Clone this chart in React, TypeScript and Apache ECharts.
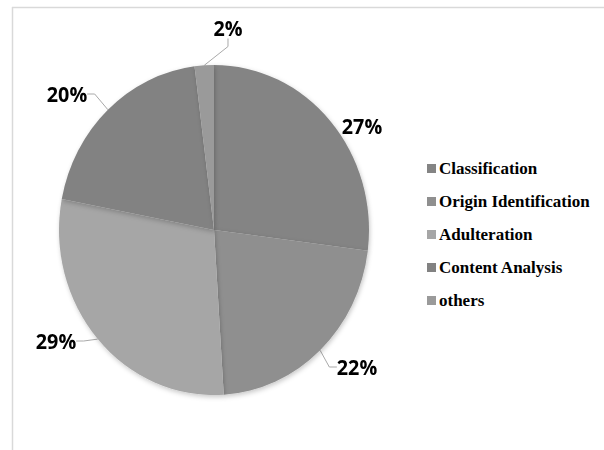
import React, { useEffect, useRef } from "react";
import * as echarts from "echarts";

const categories = ["Classification", "Origin Identification", "Adulteration", "Content Analysis", "others"];
const values = [27, 22, 29, 20, 2];
const colors = ["#848484", "#8f8f8f", "#a6a6a6", "#828282", "#9a9a9a"];

// horizontal squeeze of the pie layer (the reference pie is slightly elliptical)
const SX = 155 / 165;
const CX = 214;
// label anchor points in screen space (centre of each percentage text)
const labelScreenX = [362, 357, 56, 67, 228];
const labelScreenY = [126, 367, 341, 94, 28];

export default function App() {
  const baseRef = useRef<HTMLDivElement>(null);
  const pieRef = useRef<HTMLDivElement>(null);
  useEffect(() => {
    if (!baseRef.current || !pieRef.current) return;
    const base = echarts.init(baseRef.current, undefined, { renderer: "svg" });
    const pie = echarts.init(pieRef.current, undefined, { renderer: "svg" });

    base.setOption({
      animation: false,
      backgroundColor: "#ffffff",
      graphic: [
        { type: "line", shape: { x1: 12, y1: 7.5, x2: 604, y2: 7.5 }, style: { stroke: "#d9d9d9", lineWidth: 1.5 } },
        { type: "line", shape: { x1: 12.5, y1: 7, x2: 12.5, y2: 450 }, style: { stroke: "#d9d9d9", lineWidth: 1.5 } },
      ],
      legend: {
        orient: "vertical",
        left: 422,
        top: 155,
        itemWidth: 9,
        itemHeight: 9,
        itemGap: 16,
        icon: "rect",
        data: categories.map((name, i) => ({ name, itemStyle: { color: colors[i] } })),
        textStyle: {
          fontFamily: "Liberation Serif",
          fontWeight: "bold",
          fontSize: 17,
          color: "#000",
          padding: [0, 0, 0, -2],
        },
      },
      series: [
        {
          type: "pie",
          center: [CX, 230],
          radius: 0,
          silent: true,
          label: { show: false },
          labelLine: { show: false },
          data: categories.map((name, i) => ({ name, value: values[i], itemStyle: { color: colors[i] } })),
        },
      ],
    });

    pie.setOption({
      animation: false,
      series: [
        {
          type: "pie",
          center: [CX, 230],
          radius: 165,
          startAngle: 90,
          clockwise: true,
          data: categories.map((name, i) => ({
            name,
            value: values[i],
            itemStyle: { color: colors[i] },
            labelLine: { show: i !== 0 },
          })),
          itemStyle: {
            shadowBlur: 5,
            shadowColor: "rgba(0,0,0,0.22)",
            shadowOffsetX: 1,
            shadowOffsetY: 2,
          },
          label: {
            show: true,
            formatter: "{c}%",
            fontFamily: "Open Sans",
            fontWeight: "bold",
            fontSize: 21,
            color: "#000",
          },
          labelLine: {
            show: true,
            length: 12,
            length2: 8,
            lineStyle: { color: "#a6a6a6", width: 1 },
          },
          labelLayout: (params: any) => {
            const i = params.dataIndex;
            return {
              x: CX + (labelScreenX[i] - CX) / SX,
              y: labelScreenY[i],
              align: "center",
              verticalAlign: "middle",
            };
          },
          emphasis: { disabled: true },
        },
      ],
    });
    return () => {
      base.dispose();
      pie.dispose();
    };
  }, []);
  return (
    <>
      <div ref={baseRef} style={{ position: "fixed", left: 0, top: 0, width: 604, height: 450 }} />
      <div
        ref={pieRef}
        style={{
          position: "fixed",
          left: 0,
          top: 0,
          width: 604,
          height: 450,
          transform: `scaleX(${SX})`,
          transformOrigin: `${CX}px 0px`,
        }}
      />
    </>
  );
}
